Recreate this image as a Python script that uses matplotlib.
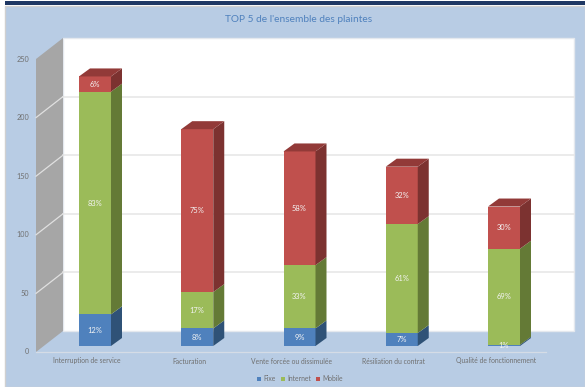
import matplotlib.pyplot as plt
from matplotlib.patches import Polygon, Rectangle

categories = ['Interruption de service', 'Facturation', 'Vente forcée ou dissimulée',
              'Résiliation du contrat', 'Qualité de fonctionnement']
fixe = [27, 15, 15, 11, 1]
internet = [190, 31, 54, 93, 82]
mobile = [13, 139, 97, 49, 36]
fixe_pct = ['12%', '8%', '9%', '7%', '1%']
internet_pct = ['83%', '17%', '33%', '61%', '69%']
mobile_pct = ['6%', '75%', '58%', '32%', '30%']
yticks = [0, 50, 100, 150, 200, 250]
series_names = ['Fixe', 'Internet', 'Mobile']

W, H = 585, 387
PX_PER_X = 102.25   # pixels between two categories
PX_PER_Y = 1.172    # pixels for one complaint
X0, Y0 = 95, 346    # pixel position of first category centre, bar base


def dx(px):
    return px / PX_PER_X


def dy(px):
    return px / PX_PER_Y


def xp(px):
    return (px - X0) / PX_PER_X


def yp(py):
    return (Y0 - py) / PX_PER_Y


plt.rcParams['font.family'] = ['Lato', 'DejaVu Sans']
fig = plt.figure(figsize=(W / 100, H / 100), dpi=100, facecolor='white')
ax = fig.add_axes([0, 0, 1, 1])
ax.set_xlim(xp(0), xp(W))
ax.set_ylim(yp(H), yp(0))
ax.axis('off')

# page furniture
ax.add_patch(Rectangle((xp(5), yp(4.5)), dx(580), dy(3.5), color='#1F3864', lw=0, zorder=1))
ax.add_patch(Rectangle((xp(5), yp(H)), dx(580), dy(H - 6), fc='#B8CCE4', ec='#D0D0D0', lw=1, zorder=1))

# walls
wall_l, wall_r, wall_f = xp(63), xp(574), xp(36)
back_off, front_off = dy(15), dy(-6)
top = max(yticks)
ax.add_patch(Rectangle((wall_l, back_off), wall_r - wall_l, top,
                       fc='white', ec='#E4E8EE', lw=1, zorder=2))
ax.add_patch(Polygon([(wall_f, front_off), (wall_l, back_off), (wall_l, top + back_off),
                      (wall_f, top + front_off)], fc='#A6A6A6', ec='none', zorder=2))
for t in yticks:
    if 0 < t < top:
        ax.plot([wall_l, wall_r], [t + back_off, t + back_off], color='#E6E6E6', lw=1.1, zorder=3)
        ax.plot([wall_f, wall_l], [t + front_off, t + back_off], color='#E0E0E0', lw=0.9, zorder=3)
    ax.text(xp(29), t + front_off, str(t), ha='right', va='center', fontsize=5.2, color='#707070', zorder=6)
ax.plot([wall_f, xp(546)], [front_off, front_off], color='#D5DCE6', lw=0.9, zorder=3)

# stacked bars, front face then side and top
x = list(range(len(categories)))
width = 32 / PX_PER_X
depth_x, depth_y = dx(11), dy(8)
colors = ['#4F81BD', '#9BBB59', '#C0504D']
sides = ['#2F5277', '#647A36', '#7C3230']
stacks = [fixe, internet, mobile]
labels = [fixe_pct, internet_pct, mobile_pct]
bottom = [0] * len(x)
for s, vals in enumerate(stacks):
    ax.bar(x, vals, width=width, bottom=bottom, color=colors[s], lw=0, zorder=4)
    for i, v in enumerate(vals):
        b = bottom[i]
        r = i + width / 2
        ax.add_patch(Polygon([(r, b), (r + depth_x, b + depth_y), (r + depth_x, b + v + depth_y), (r, b + v)],
                             fc=sides[s], ec='none', zorder=4))
        ax.text(i, b + v / 2, labels[s][i], ha='center', va='center', fontsize=5.4, color='#F4F4F4', zorder=5)
    bottom = [b + v for b, v in zip(bottom, vals)]
for i, b in enumerate(bottom):
    l = i - width / 2
    r = i + width / 2
    ax.add_patch(Polygon([(l, b), (l + depth_x, b + depth_y), (r + depth_x, b + depth_y), (r, b)],
                         fc='#923A38', ec='none', zorder=4))

# category labels
for i, c in enumerate(categories):
    ax.text(i - dx(8), yp(363.5), c, ha='center', va='baseline', fontsize=4.9, color='#707070', zorder=6)

ax.text(xp(298.5), yp(20), "TOP 5 de l'ensemble des plaintes", ha='center', va='center',
        fontsize=7.3, color='#4F81BD', zorder=6)

# legend
leg_x = [257, 281, 316]
for name, c, lx in zip(series_names, colors, leg_x):
    ax.add_patch(Rectangle((xp(lx), yp(381)), dx(4), dy(4), color=c, lw=0, zorder=6))
    ax.text(xp(lx + 6), yp(381), name, ha='left', va='baseline', fontsize=4.9, color='#707070', zorder=6)

fig.savefig('out.png', dpi=100)
